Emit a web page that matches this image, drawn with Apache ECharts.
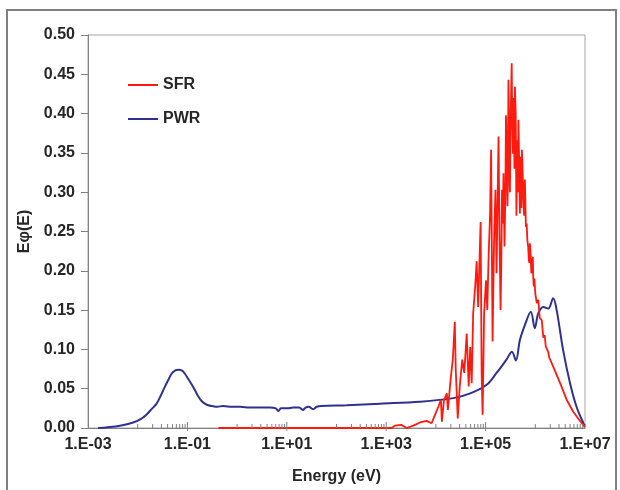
<!DOCTYPE html>
<html><head><meta charset="utf-8">
<script src="https://cdn.jsdelivr.net/npm/echarts@6/dist/echarts.min.js"></script>
<style>html,body{margin:0;padding:0;background:#fff}#c{width:620px;height:490px}</style>
</head><body><div id="c"></div>
<script>
// ---- data ----
const seriesNames = ['SFR', 'PWR'];

const sfrEnergy = [0.42, 1.3e3, 1.5e3, 2.0e3, 2.6e3, 3.5e3, 4.8e3, 6.5e3, 8.2e3, 9.5e3,
  1.12e4, 1.26e4, 1.32e4, 1.45e4, 1.66e4, 1.74e4, 2.0e4, 2.19e4, 2.4e4, 2.51e4,
  2.75e4, 3.02e4, 3.39e4, 3.72e4, 4.17e4, 4.57e4, 4.9e4, 5.25e4, 5.62e4, 6.17e4,
  6.61e4, 7.08e4, 7.41e4, 7.94e4, 8.32e4, 8.71e4, 9.33e4, 1.02e5, 1.08e5, 1.15e5,
  1.23e5, 1.29e5, 1.38e5, 1.48e5, 1.58e5, 1.66e5, 1.82e5, 1.91e5, 2.0e5, 2.07e5,
  2.14e5, 2.22e5, 2.29e5, 2.4e5, 2.5e5, 2.57e5, 2.66e5, 2.75e5, 2.81e5, 2.88e5,
  2.95e5, 3.02e5, 3.09e5, 3.16e5, 3.25e5, 3.35e5, 3.45e5, 3.55e5, 3.63e5, 3.72e5,
  3.8e5, 3.89e5, 4.03e5, 4.17e5, 4.27e5, 4.37e5, 4.47e5, 4.57e5, 4.7e5, 4.9e5,
  5.0e5, 5.13e5, 5.25e5, 5.37e5, 5.55e5, 5.75e5, 5.95e5, 6.17e5, 6.3e5, 6.46e5,
  6.7e5, 6.92e5, 7.2e5, 7.41e5, 7.6e5, 7.76e5, 8.0e5, 8.32e5, 8.6e5, 8.91e5,
  9.1e5, 9.33e5, 9.6e5, 1.0e6, 1.07e6, 1.15e6, 1.23e6, 1.35e6, 1.45e6, 1.55e6,
  1.62e6, 1.7e6, 1.82e6, 1.9e6, 2.0e6, 2.29e6, 3.16e6, 4.27e6, 5.75e6, 7.94e6,
  1.0e7];
const sfrFlux = [0, 0, 0.003, 0.004, 0.0, 0.003, 0.007, 0.009, 0.006, 0.016,
  0.027, 0.036, 0.008, 0.035, 0.044, 0.023, 0.065, 0.087, 0.135, 0.074,
  0.012, 0.053, 0.087, 0.070, 0.120, 0.053, 0.103, 0.057, 0.146, 0.180,
  0.212, 0.154, 0.197, 0.262, 0.070, 0.017, 0.146, 0.188, 0.150, 0.218,
  0.273, 0.354, 0.110, 0.239, 0.303, 0.197, 0.371, 0.239, 0.150, 0.210,
  0.303, 0.260, 0.324, 0.231, 0.300, 0.398, 0.360, 0.282, 0.310, 0.443,
  0.400, 0.332, 0.300, 0.379, 0.420, 0.464, 0.380, 0.349, 0.420, 0.405,
  0.330, 0.434, 0.400, 0.270, 0.330, 0.366, 0.300, 0.392, 0.350, 0.273,
  0.320, 0.345, 0.280, 0.354, 0.330, 0.290, 0.270, 0.316, 0.290, 0.256,
  0.260, 0.239, 0.230, 0.214, 0.210, 0.235, 0.225, 0.197, 0.200, 0.218,
  0.190, 0.180, 0.190, 0.171, 0.159, 0.163, 0.140, 0.137, 0.115, 0.118,
  0.104, 0.102, 0.097, 0.090, 0.088, 0.078, 0.057, 0.036, 0.021, 0.009,
  0.001];

const pwrEnergy = [1.6e-3, 2.5e-3, 4.4e-3, 8.1e-3, 1.12e-2, 1.5e-2, 1.9e-2, 2.4e-2, 2.95e-2, 3.55e-2,
  4.2e-2, 4.8e-2, 5.6e-2, 6.6e-2, 7.8e-2, 8.9e-2, 0.105, 0.123, 0.145, 0.166,
  0.195, 0.224, 0.263, 0.31, 0.4, 0.52, 0.8, 1.15, 1.8, 2.8,
  4.5, 6.0, 6.8, 7.6, 10, 13.5, 17.8, 21, 24, 27.5,
  34, 40, 50, 160, 760, 4.8e3, 2.24e4, 4.9e4, 1.05e5, 1.66e5,
  2.63e5, 3.39e5, 4.07e5, 4.9e5, 6.17e5, 8.13e5, 9.77e5, 1.15e6, 1.45e6, 1.82e6,
  2.29e6, 2.69e6, 3.63e6, 5.0e6, 6.76e6, 9.3e6, 1.0e7];
const pwrFlux = [0, 0.001, 0.003, 0.007, 0.011, 0.017, 0.024, 0.031, 0.042, 0.053,
  0.062, 0.069, 0.073, 0.074, 0.073, 0.069, 0.062, 0.055, 0.047, 0.040,
  0.034, 0.031, 0.029, 0.028, 0.027, 0.028, 0.027, 0.027, 0.026, 0.026,
  0.026, 0.025, 0.0215, 0.025, 0.025, 0.026, 0.026, 0.023, 0.026, 0.027,
  0.024, 0.027, 0.028, 0.029, 0.031, 0.0335, 0.038, 0.044, 0.055, 0.070,
  0.087, 0.097, 0.086, 0.112, 0.131, 0.148, 0.127, 0.146, 0.154, 0.152,
  0.165, 0.150, 0.099, 0.057, 0.027, 0.006, 0.003];

// axis ticks (energies in eV)
const xMajorTicks = [1e-1, 1e1, 1e3, 1e5];
const xMinorTicks = [1e-2, 2e-2, 3e-2, 4e-2, 5e-2, 6e-2, 7e-2, 8e-2, 9e-2,
  1, 2, 3, 4, 5, 6, 7, 8, 9,
  100, 200, 300, 400, 500, 600, 700, 800, 900,
  1e4, 2e4, 3e4, 4e4, 5e4, 6e4, 7e4, 8e4, 9e4,
  1e6, 2e6, 3e6, 4e6, 5e6, 6e6, 7e6, 8e6, 9e6];
const xTickLabels = ['1.E-03', '1.E-01', '1.E+01', '1.E+03', '1.E+05', '1.E+07'];

// ---- chart ----
const font = "'Liberation Sans', Arial, sans-serif";
const textColor = '#262626';
const zip = (xs, ys) => xs.map((x, i) => [x, ys[i]]);
const tickData = xMajorTicks.map(v => [v, 1]).concat(xMinorTicks.map(v => [v, 0]));

const chart = echarts.init(document.getElementById('c'), null, {renderer: 'canvas'});
chart.setOption({
  animation: false,
  backgroundColor: '#ffffff',
  textStyle: {fontFamily: font},
  graphic: [{
    type: 'rect', silent: true, z: 0,
    shape: {x: 7, y: 10, width: 609, height: 500},
    style: {fill: null, stroke: '#808080', lineWidth: 2}
  }],
  grid: {left: 88, right: 35, top: 35, bottom: 62, show: true, borderColor: '#a6a6a6', borderWidth: 1, backgroundColor: 'transparent'},
  legend: {
    data: seriesNames, orient: 'vertical', left: 128, top: 77, padding: 0,
    icon: 'rect', itemWidth: 30, itemHeight: 2, itemGap: 18,
    textStyle: {fontFamily: font, fontSize: 16, fontWeight: 'bold', color: textColor}
  },
  xAxis: {
    type: 'log', logBase: 10, min: 1e-3, max: 1e7, interval: 1,
    name: 'Energy (eV)', nameLocation: 'middle', nameGap: 41,
    nameTextStyle: {fontFamily: font, fontSize: 16, fontWeight: 'bold', color: textColor},
    axisLine: {show: true, lineStyle: {color: '#808080', width: 1}},
    axisTick: {show: false},
    splitLine: {show: false},
    axisLabel: {
      margin: 9, fontFamily: font, fontSize: 16, fontWeight: 'bold', color: textColor,
      formatter: function (v) {
        const e = Math.round(Math.log10(v));
        const idx = (e + 3) / 2;
        return Number.isInteger(idx) && xTickLabels[idx] ? xTickLabels[idx] : '';
      }
    }
  },
  yAxis: {
    type: 'value', min: 0, max: 0.5, interval: 0.05,
    name: 'Eφ(E)', nameLocation: 'middle', nameGap: 50, nameRotate: 90,
    nameTextStyle: {fontFamily: font, fontSize: 16, fontWeight: 'bold', color: textColor},
    axisLine: {show: true, lineStyle: {color: '#808080', width: 1}},
    axisTick: {show: true, inside: false, length: 7, lineStyle: {color: '#808080'}},
    splitLine: {show: false},
    axisLabel: {margin: 13, fontFamily: font, fontSize: 16, fontWeight: 'bold', color: textColor,
      formatter: v => v.toFixed(2)}
  },
  series: [
    {
      name: 'SFR', type: 'line', data: zip(sfrEnergy, sfrFlux), symbol: 'none', clip: false,
      lineStyle: {color: '#ff1a0f', width: 1.8}, itemStyle: {color: '#ff1a0f'}, z: 4
    },
    {
      name: 'PWR', type: 'line', data: zip(pwrEnergy, pwrFlux), symbol: 'none', smooth: 0.35, clip: false,
      lineStyle: {color: '#2e3192', width: 2}, itemStyle: {color: '#2e3192'}, z: 3
    },
    {
      name: 'ticks', type: 'custom', silent: true, z: 6, clip: false, data: tickData,
      renderItem: function (params, api) {
        const p = api.coord([api.value(0), 0]);
        const major = api.value(1) === 1;
        return {
          type: 'line',
          shape: {x1: p[0], y1: p[1] + (major ? 3 : 0), x2: p[0], y2: p[1] - (major ? 6 : 4)},
          style: {stroke: '#808080', lineWidth: 1}
        };
      }
    }
  ]
});
</script>
</body></html>
